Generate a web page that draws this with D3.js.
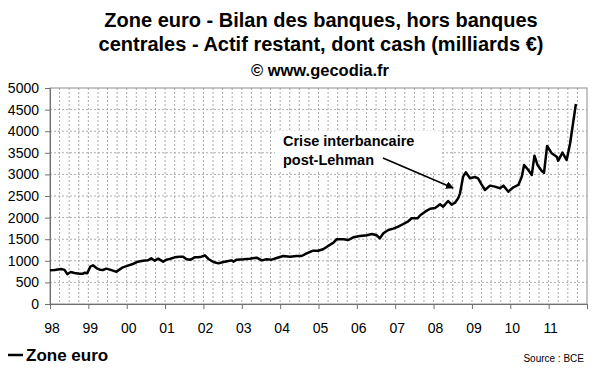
<!DOCTYPE html>
<html>
<head>
<meta charset="utf-8">
<script src="https://cdn.jsdelivr.net/npm/d3@7"></script>
<style>
  body { margin: 0; background: #fff; }
  text { font-family: "Liberation Sans", Arial, sans-serif; }
</style>
</head>
<body>
<div id="chart"></div>
<script>
// Data (decimal year, milliards €)
var dates = [
  1998.00, 1998.12, 1998.29, 1998.38, 1998.45, 1998.54, 1998.64, 1998.77, 1998.86, 1998.90, 1998.97,
  1999.05, 1999.12, 1999.21, 1999.30, 1999.38, 1999.47, 1999.56, 1999.64, 1999.73, 1999.82, 1999.90,
  2000.03, 2000.16, 2000.29, 2000.42, 2000.55, 2000.64, 2000.73, 2000.82, 2000.95,
  2001.03, 2001.12, 2001.25, 2001.38, 2001.47, 2001.55, 2001.64, 2001.68, 2001.77, 2001.87, 2001.95,
  2002.04, 2002.13, 2002.26, 2002.39, 2002.52, 2002.65, 2002.74, 2002.78, 2002.87,
  2003.04, 2003.21, 2003.39, 2003.52, 2003.65, 2003.78, 2003.91,
  2004.08, 2004.26, 2004.43, 2004.56, 2004.69, 2004.86, 2004.99,
  2005.12, 2005.25, 2005.39, 2005.47, 2005.65, 2005.78, 2005.91,
  2006.08, 2006.26, 2006.39, 2006.52, 2006.60, 2006.69, 2006.82, 2006.95,
  2007.08, 2007.21, 2007.34, 2007.43, 2007.58, 2007.66, 2007.78, 2007.91,
  2008.04, 2008.17, 2008.25, 2008.38, 2008.47, 2008.56, 2008.64, 2008.69, 2008.77, 2008.84, 2008.95,
  2009.08, 2009.16, 2009.25, 2009.34, 2009.47, 2009.60, 2009.73, 2009.82, 2009.95,
  2010.08, 2010.21, 2010.30, 2010.36, 2010.47, 2010.56, 2010.63, 2010.71, 2010.82, 2010.88, 2010.96,
  2011.08, 2011.21, 2011.25, 2011.36, 2011.47, 2011.56, 2011.71
];
var values = [
  780, 785, 810, 790, 690, 740, 718, 702, 702, 725, 710,
  864, 895, 833, 795, 787, 818, 795, 772, 748, 802, 849,
  887, 926, 980, 1003, 1010, 1057, 1003, 1049, 980,
  1026, 1041, 1080, 1095, 1095, 1041, 1026, 1034, 1080, 1080, 1095,
  1126, 1042, 972, 941, 972, 995, 1010, 980, 1026,
  1034, 1049, 1072, 1010, 1034, 1026, 1064,
  1111, 1095, 1111, 1111, 1173, 1234, 1234,
  1266, 1343, 1420, 1497, 1497, 1482, 1543,
  1574, 1590, 1620, 1590, 1520, 1636, 1713, 1744,
  1790, 1852, 1914, 1984, 1984, 2060, 2137, 2206,
  2222, 2307, 2253, 2384, 2300, 2346, 2446, 2562, 2948, 3049, 2910,
  2940, 2910, 2771, 2639, 2740, 2717, 2679, 2740, 2600,
  2702, 2755, 2948, 3218, 3102, 2986, 3433, 3218, 3079, 3040, 3658,
  3488, 3410, 3317, 3503, 3333, 3720, 4630
];

var yearTicks = d3.range(1998, 2013);
var yearLabels = ["98", "99", "00", "01", "02", "03", "04", "05", "06", "07", "08", "09", "10", "11", ""];
var valueTicks = [0, 500, 1000, 1500, 2000, 2500, 3000, 3500, 4000, 4500, 5000];

var titleLines = [
  "Zone euro - Bilan des banques, hors banques",
  "centrales - Actif restant, dont cash (milliards €)"
];
var subtitle = "© www.gecodia.fr";
var seriesName = "Zone euro";
var sourceText = "Source : BCE";
var noteLines = ["Crise interbancaire", "post-Lehman"];

// Set Margins
var margin = {top: 88, right: 13, bottom: 68, left: 50},
    width = 600 - margin.left - margin.right,
    height = 372 - margin.top - margin.bottom;

var svg = d3.select("#chart")
  .append("svg")
    .attr("width", 600)
    .attr("height", 372);

var g = svg.append("g")
    .attr("transform", "translate(" + margin.left + "," + margin.top + ")");

var x = d3.scaleLinear().domain([1998, 2012]).range([0, width]);
var y = d3.scaleLinear().domain([0, 5000]).range([height, 0]);

// titles
svg.selectAll(".title")
  .data(titleLines)
  .enter().append("text")
    .attr("class", "title")
    .attr("x", 321)
    .attr("y", function(d, i) { return 27 + i * 24; })
    .attr("text-anchor", "middle")
    .style("font-size", "20px")
    .style("font-weight", "bold")
    .text(function(d) { return d; });

svg.append("text")
    .attr("x", 320)
    .attr("y", 76)
    .attr("text-anchor", "middle")
    .style("font-size", "16.5px")
    .style("font-weight", "bold")
    .text(subtitle);

// grid
g.append("g")
  .selectAll("line")
  .data(valueTicks.filter(function(d) { return d > 0 && d < 5000; }))
  .enter().append("line")
    .attr("x1", 0)
    .attr("x2", width)
    .attr("y1", function(d) { return y(d); })
    .attr("y2", function(d) { return y(d); })
    .attr("stroke", "#aaa")
    .attr("stroke-dasharray", "2,2");

g.append("g")
  .selectAll("line")
  .data(d3.range(1998.25, 2012, 0.25))
  .enter().append("line")
    .attr("x1", function(d) { return x(d); })
    .attr("x2", function(d) { return x(d); })
    .attr("y1", 0)
    .attr("y2", height)
    .attr("stroke", "#aaa")
    .attr("stroke-dasharray", "2,2");

// frame
g.append("rect")
    .attr("width", width)
    .attr("height", height)
    .attr("fill", "none")
    .attr("stroke", "#8c8c8c");

// axes
var xAxis = g.append("g")
    .attr("transform", "translate(0," + height + ")")
    .call(d3.axisBottom(x)
      .tickValues(yearTicks)
      .tickSize(5)
      .tickPadding(14)
      .tickFormat(function(d, i) { return yearLabels[i]; }));

var yAxis = g.append("g")
    .call(d3.axisLeft(y)
      .tickValues(valueTicks)
      .tickSize(5)
      .tickPadding(6)
      .tickFormat(d3.format("d")));

[xAxis, yAxis].forEach(function(a) {
  a.select(".domain").attr("stroke", "#707070");
  a.selectAll(".tick line").attr("stroke", "#707070");
  a.selectAll("text")
    .style("font-size", "14px")
    .style("font-family", "'Liberation Sans', Arial, sans-serif")
    .attr("fill", "#000");
});
xAxis.selectAll("text").attr("dx", "1.5");

// annotation
var note = g.append("g");
note.selectAll("text")
  .data(noteLines)
  .enter().append("text")
    .attr("x", 233)
    .attr("y", function(d, i) { return 58 + i * 19; })
    .style("font-size", "14.5px")
    .style("font-weight", "bold")
    .text(function(d) { return d; });

var nb = note.node().getBBox();
note.insert("rect", "text")
    .attr("x", nb.x - 8)
    .attr("y", nb.y - 2)
    .attr("width", 167)
    .attr("height", nb.height + 4)
    .attr("fill", "#fff");

svg.append("defs").append("marker")
    .attr("id", "arrow")
    .attr("viewBox", "0 0 10 10")
    .attr("refX", 9)
    .attr("refY", 5)
    .attr("markerWidth", 5)
    .attr("markerHeight", 5)
    .attr("orient", "auto")
  .append("path")
    .attr("d", "M0,0L10,5L0,10z")
    .attr("fill", "#000");

g.append("line")
    .attr("x1", x(2006.68))
    .attr("y1", y(3380))
    .attr("x2", x(2008.51))
    .attr("y2", y(2685))
    .attr("stroke", "#000")
    .attr("stroke-width", 1.6)
    .attr("marker-end", "url(#arrow)");

// series
var line = d3.line()
    .x(function(d, i) { return x(dates[i]); })
    .y(function(d) { return y(d); });

g.append("path")
    .datum(values)
    .attr("fill", "none")
    .attr("stroke", "#000")
    .attr("stroke-width", 2.5)
    .attr("stroke-linejoin", "round")
    .attr("d", line);

// legend
svg.append("line")
    .attr("x1", 8)
    .attr("x2", 23)
    .attr("y1", 355)
    .attr("y2", 355)
    .attr("stroke", "#000")
    .attr("stroke-width", 2.5);

svg.append("text")
    .attr("x", 26)
    .attr("y", 361)
    .style("font-size", "17px")
    .style("font-weight", "bold")
    .text(seriesName);

svg.append("text")
    .attr("x", 584)
    .attr("y", 362)
    .attr("text-anchor", "end")
    .style("font-size", "10px")
    .text(sourceText);
</script>
</body>
</html>
